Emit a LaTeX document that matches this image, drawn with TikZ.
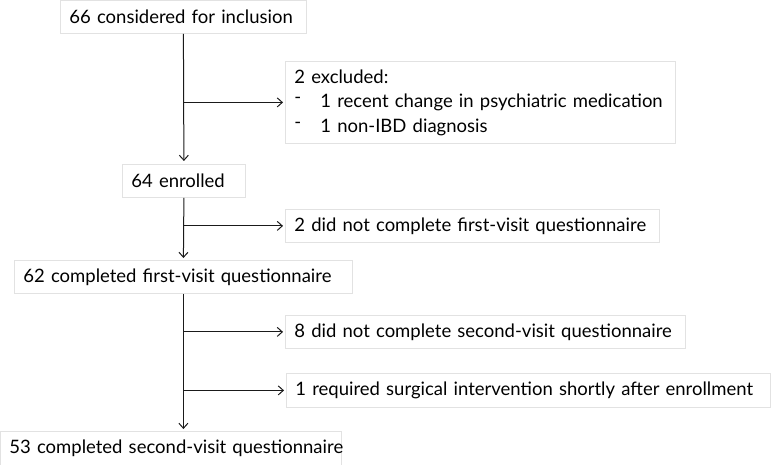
\documentclass[tikz,border=0pt]{standalone}
\usepackage{fontspec}
\setmainfont{Lato}
\usetikzlibrary{arrows.meta}
\definecolor{boxline}{HTML}{E2E2E2}
\definecolor{arrowline}{HTML}{1A1A1A}
\tikzset{
  box/.style={draw=boxline, line width=0.8pt, anchor=north west, inner xsep=9pt, inner ysep=0pt, align=left, font=\fontsize{18.5}{24.5}\selectfont},
  flow/.style={draw=arrowline, line width=1pt, -{Straight Barb[length=5pt,width=9pt,line width=1pt]}},
  plain/.style={draw=arrowline, line width=1pt}
}
\begin{document}
\begin{tikzpicture}[x=1pt,y=-1pt]
\useasboundingbox (0,0) rectangle (771,465);
\node[box, minimum width=246pt, minimum height=33pt, text width=228pt] (n1) at (60,0) {\mbox{66 considered for inclusion}};
\node[box, minimum width=390pt, minimum height=82pt, text width=372pt] (ex) at (285,61) {\mbox{2 excluded:}\\\mbox{\makebox[26pt][l]{\raisebox{0.2em}{-}}1 recent change in psychiatric medication}\\\mbox{\makebox[26pt][l]{\raisebox{0.2em}{-}}1 non-IBD diagnosis}};
\node[box, minimum width=123pt, minimum height=33pt, text width=105pt] (n2) at (122,164) {\mbox{64 enrolled}};
\node[box, minimum width=374pt, minimum height=33pt, text width=356pt] (d1) at (285,209) {\mbox{2 did not complete first-visit questionnaire}};
\node[box, minimum width=338pt, minimum height=33pt, text width=320pt] (n3) at (14,260) {\mbox{62 completed first-visit questionnaire}};
\node[box, minimum width=400pt, minimum height=33pt, text width=382pt] (d2) at (285,315) {\mbox{8 did not complete second-visit questionnaire}};
\node[box, minimum width=484pt, minimum height=34pt, text width=466pt] (d3) at (286,373) {\mbox{1 required surgical intervention shortly after enrollment}};
\node[box, minimum width=341pt, minimum height=34pt, text width=323pt] (n4) at (0,431) {\mbox{53 completed second-visit questionnaire}};
\coordinate (j1) at (n1.south |- ex.west);
\coordinate (j2) at (n2.south |- d1.west);
\coordinate (j3) at (n3.south |- d2.west);
\coordinate (j4) at (n3.south |- d3.west);
\coordinate (e4) at (n3.south |- n4.north);
\draw[flow, shorten >=3pt] (n1.south) -- (n2.north);
\draw[flow, shorten >=2pt] (j1) -- (ex.west);
\draw[flow, shorten >=2pt] (n2.south) -- (n3.north);
\draw[flow, shorten >=2pt] (j2) -- (d1.west);
\draw[flow, shorten >=2pt] (n3.south) -- (e4);
\draw[flow, shorten >=2pt] (j3) -- (d2.west);
\draw[flow, shorten >=2pt] (j4) -- (d3.west);
\end{tikzpicture}
\end{document}
